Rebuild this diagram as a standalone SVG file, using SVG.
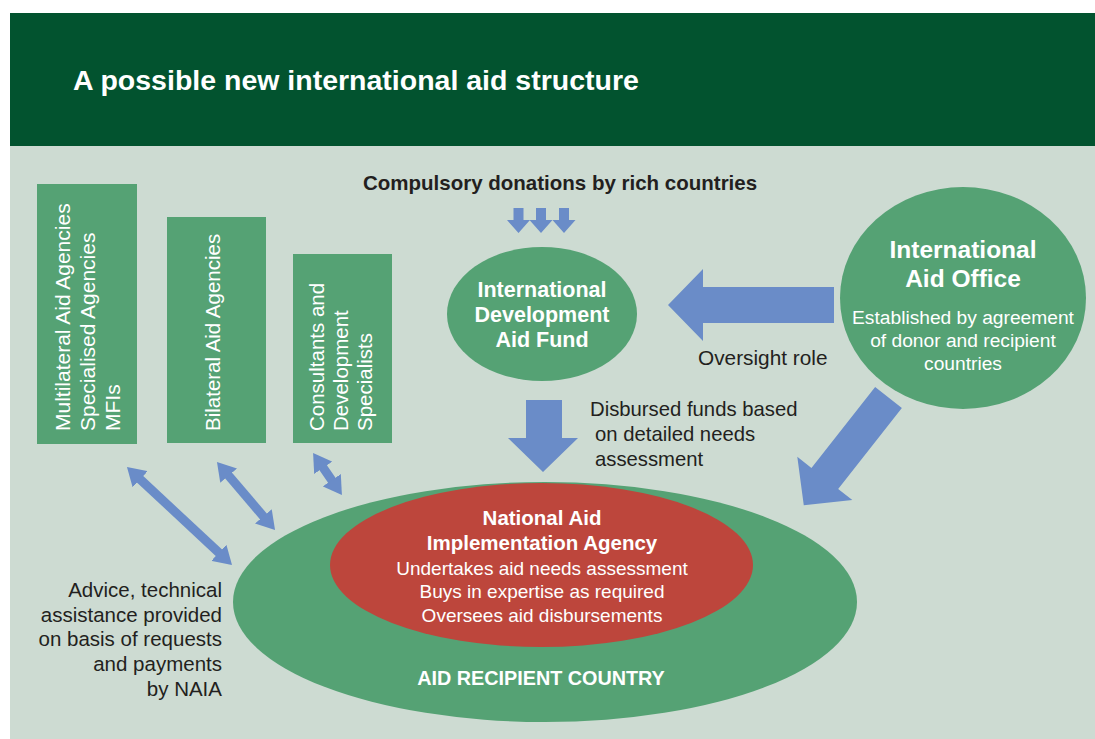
<svg xmlns="http://www.w3.org/2000/svg" width="1095" height="739" viewBox="0 0 1095 739">
  <style>
    .t { font-family: "Liberation Sans", Arial, sans-serif; }
    .dark { fill: #231f20; }
    .white { fill: #ffffff; }
    .b { font-weight: bold; }
    .box { fill: #55a274; }
    .blue { fill: #6a8cc8; }
    .dbl { stroke: #6a8cc8; stroke-width: 9; fill: none; }
  </style>
  <defs>
    <marker id="head" markerUnits="userSpaceOnUse" markerWidth="18" markerHeight="22" viewBox="0 0 18 22" refX="1" refY="11" orient="auto-start-reverse">
      <path d="M0,0 L18,11 L0,22 Z" fill="#6a8cc8"/>
    </marker>
    <polygon id="smallDown" points="-5,0 5,0 5,12 11.5,12 0,25 -11.5,12 -5,12"/>
  </defs>

  <!-- page background and title band -->
  <rect x="0" y="0" width="1095" height="739" fill="#ffffff"/>
  <rect x="10" y="145" width="1085" height="594" fill="#cddbd2"/>
  <rect x="10" y="13" width="1085" height="133" fill="#02532f"/>
  <text class="t b white" x="73" y="90" font-size="28.5">A possible new international aid structure</text>

  <!-- supplier boxes -->
  <g id="multilateral">
    <rect class="box" x="37" y="184" width="100" height="260"/>
    <g class="t white" font-size="21">
      <text transform="translate(70,431) rotate(-90)">Multilateral Aid Agencies</text>
      <text transform="translate(95,431) rotate(-90)">Specialised Agencies</text>
      <text transform="translate(120,431) rotate(-90)">MFIs</text>
    </g>
  </g>
  <g id="bilateral">
    <rect class="box" x="167" y="217" width="99" height="226"/>
    <text class="t white" font-size="20.5" transform="translate(220,431) rotate(-90)">Bilateral Aid Agencies</text>
  </g>
  <g id="consultants">
    <rect class="box" x="293" y="254" width="99" height="189"/>
    <g class="t white" font-size="20.5">
      <text transform="translate(324,431) rotate(-90)">Consultants and</text>
      <text transform="translate(348,431) rotate(-90)">Development</text>
      <text transform="translate(372,431) rotate(-90)">Specialists</text>
    </g>
  </g>

  <!-- donations heading -->
  <g id="donations">
    <text class="t b dark" x="363" y="190" font-size="20.5">Compulsory donations by rich countries</text>
  </g>

  <!-- fund -->
  <g id="fund">
    <ellipse cx="542" cy="314" rx="95" ry="67" fill="#55a274"/>
    <g class="t b white" font-size="21.5" text-anchor="middle">
      <text x="542" y="297">International</text>
      <text x="542" y="322">Development</text>
      <text x="542" y="347">Aid Fund</text>
    </g>
  </g>

  <!-- international aid office -->
  <g id="office">
    <ellipse cx="963" cy="298" rx="123" ry="111" fill="#55a274"/>
    <g class="t white" text-anchor="middle">
      <text class="b" x="963" y="258" font-size="24.5">International</text>
      <text class="b" x="963" y="287" font-size="24.5">Aid Office</text>
      <text x="963" y="324" font-size="19.2">Established by agreement</text>
      <text x="963" y="347" font-size="19.2">of donor and recipient</text>
      <text x="963" y="370" font-size="19.2">countries</text>
    </g>
  </g>

  <!-- recipient country and implementation agency -->
  <g id="country">
    <ellipse cx="545" cy="602" rx="312" ry="120" fill="#55a274"/>
    <text class="t b white" x="541" y="685" font-size="19.8" text-anchor="middle">AID RECIPIENT COUNTRY</text>
  </g>
  <g id="naia">
    <ellipse cx="541.5" cy="565" rx="211.5" ry="82" fill="#bd463c"/>
    <g class="t white" text-anchor="middle">
      <text class="b" x="542" y="525" font-size="20.5">National Aid</text>
      <text class="b" x="542" y="550" font-size="20.5">Implementation Agency</text>
      <text x="542" y="575" font-size="19">Undertakes aid needs assessment</text>
      <text x="542" y="598" font-size="19">Buys in expertise as required</text>
      <text x="542" y="622" font-size="19">Oversees aid disbursements</text>
    </g>
  </g>

  <!-- connectors -->
  <g id="connectors">
    <g class="blue">
      <use href="#smallDown" x="518.5" y="208"/>
      <use href="#smallDown" x="541" y="208"/>
      <use href="#smallDown" x="564" y="208"/>
      <!-- oversight: office to fund -->
      <polygon points="668,305 703,269 703,287 834,287 834,323 703,323 703,341"/>
      <!-- disbursement: fund to agency -->
      <polygon points="526,400 562,400 562,438 578,438 543,472 508,438 526,438"/>
      <!-- office to recipient country -->
      <polygon transform="translate(888.5,397.5) rotate(128.2)" points="0,-17 103,-17 103,-35 137,0 103,35 103,17 0,17"/>
    </g>
    <!-- two-way advice links -->
    <line class="dbl" x1="139.4" y1="478.6" x2="219.6" y2="553.4" marker-start="url(#head)" marker-end="url(#head)"/>
    <line class="dbl" x1="228" y1="474.9" x2="264" y2="517.1" marker-start="url(#head)" marker-end="url(#head)"/>
    <line class="dbl" x1="322.7" y1="467" x2="332.3" y2="481" marker-start="url(#head)" marker-end="url(#head)"/>
  </g>

  <!-- free labels -->
  <g id="labels" class="t dark">
    <text x="698" y="365" font-size="20.8">Oversight role</text>
    <text x="590" y="416" font-size="20.3">Disbursed funds based</text>
    <text x="595" y="441" font-size="20.3">on detailed needs</text>
    <text x="595" y="466" font-size="20.3">assessment</text>
    <g text-anchor="end" font-size="20.5">
      <text x="222" y="597">Advice, technical</text>
      <text x="222" y="622">assistance provided</text>
      <text x="222" y="646">on basis of requests</text>
      <text x="222" y="671">and payments</text>
      <text x="222" y="696">by NAIA</text>
    </g>
  </g>
</svg>
